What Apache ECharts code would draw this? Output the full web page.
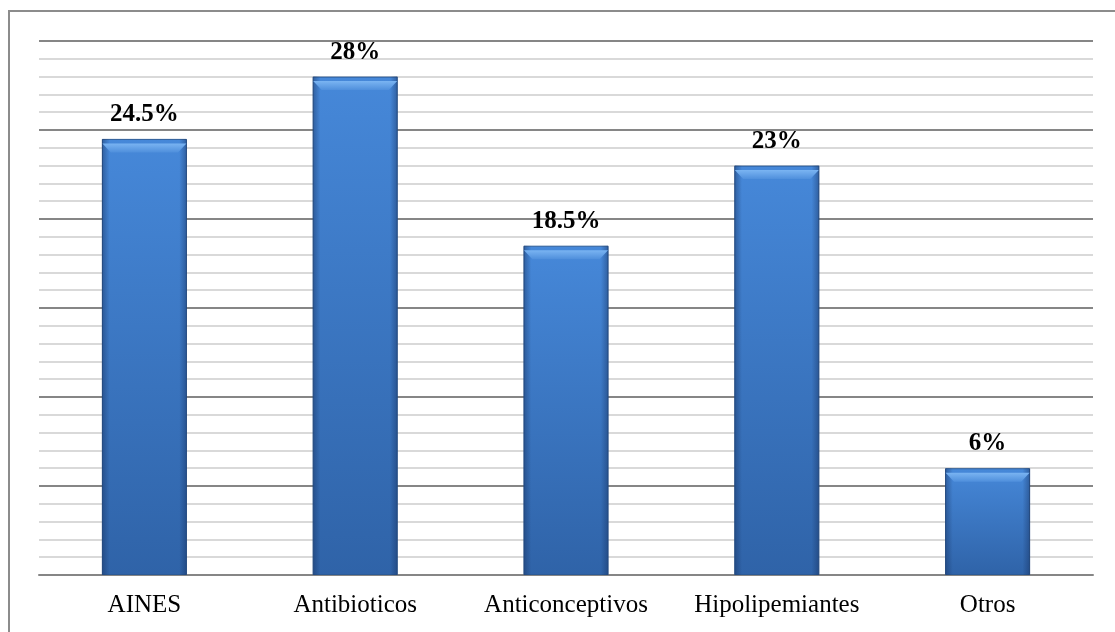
<!DOCTYPE html>
<html>
<head>
<meta charset="utf-8">
<script src="https://cdn.jsdelivr.net/npm/echarts@6/dist/echarts.min.js"></script>
<style>
  html, body { margin: 0; padding: 0; background: #fff; }
  #chart { width: 1115px; height: 632px; }
</style>
</head>
<body>
<div id="chart"></div>
<script>
const categories = ['AINES', 'Antibioticos', 'Anticonceptivos', 'Hipolipemiantes', 'Otros']
const values = [24.5, 28, 18.5, 23, 6]
const yMax = 30
const yStep = 5

const chart = echarts.init(document.getElementById('chart'))

const option = {
  backgroundColor: '#fff',
  animation: false,
  graphic: [{
    type: 'rect',
    shape: { x: 9, y: 11, width: 1130, height: 650 },
    style: { fill: 'none', stroke: '#8c8c8c', lineWidth: 2 },
    silent: true
  }],
  grid: { left: 39, right: 22, top: 41, bottom: 57 },
  xAxis: {
    type: 'category',
    data: categories,
    axisTick: { show: false },
    axisLine: { lineStyle: { color: '#868686', width: 2 } },
    axisLabel: {
      interval: 0,
      margin: 18,
      color: '#000',
      fontFamily: 'Liberation Serif',
      fontSize: 25
    }
  },
  yAxis: {
    type: 'value',
    min: 0,
    max: yMax,
    interval: yStep,
    axisLabel: { show: false },
    axisLine: { show: false },
    axisTick: { show: false },
    splitLine: { lineStyle: { color: '#868686', width: 2 } },
    minorTick: { show: false, splitNumber: 5 },
    minorSplitLine: { show: true, lineStyle: { color: '#d9d9d9', width: 2 } }
  },
  series: [{
    // cuerpo de la barra
    type: 'bar',
    barWidth: 85,
    data: values,
    z: 2,
    itemStyle: {
      color: new echarts.graphic.LinearGradient(0, 0, 0, 1, [
        { offset: 0, color: '#4688d9' },
        { offset: 1, color: '#2f63a8' }
      ]),
      borderColor: '#2b5a96',
      borderWidth: 1
    },
    label: {
      show: true,
      position: 'top',
      distance: 12,
      color: '#000',
      fontFamily: 'Liberation Serif',
      fontWeight: 'bold',
      fontSize: 25,
      formatter: p => p.value + '%'
    }
  }, {
    // sombra de los lados
    type: 'bar',
    barWidth: 85,
    barGap: '-100%',
    data: values,
    z: 3,
    silent: true,
    itemStyle: {
      color: new echarts.graphic.LinearGradient(0, 0, 1, 0, [
        { offset: 0, color: 'rgba(20,45,90,0.45)' },
        { offset: 0.09, color: 'rgba(20,45,90,0)' },
        { offset: 0.91, color: 'rgba(20,45,90,0)' },
        { offset: 1, color: 'rgba(20,45,90,0.45)' }
      ])
    }
  }, {
    // bisel superior
    type: 'pictorialBar',
    symbol: 'path://M0,0 L100,0 L90,10 L10,10 Z',
    symbolSize: [84, 9],
    symbolPosition: 'end',
    symbolOffset: [0, '50%'],
    data: values,
    z: 4,
    silent: true,
    itemStyle: {
      color: new echarts.graphic.LinearGradient(0, 0, 0, 1, [
        { offset: 0, color: '#7ab4f2' },
        { offset: 1, color: '#4f8fdc' }
      ])
    }
  }]
}

chart.setOption(option)
</script>
</body>
</html>
